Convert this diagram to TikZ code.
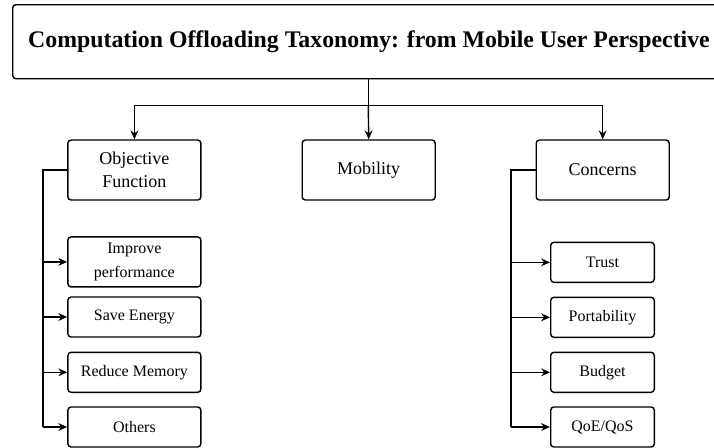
\documentclass[tikz,border=0pt]{standalone}
\usepackage{fontspec}
\setmainfont{Liberation Serif}
\usetikzlibrary{arrows.meta}
\begin{document}
\begin{tikzpicture}[x=0.5pt,y=-0.5pt,
  box/.style={draw, rounded corners=1.6pt, line width=0.7pt, align=center, inner sep=0pt},
  midbox/.style={box, minimum width=66.5pt, minimum height=30pt, font=\fontsize{9}{11.5}\selectfont},
  leafL/.style={box, minimum width=66.5pt, minimum height=20pt, font=\fontsize{8}{12}\selectfont},
  leafR/.style={box, minimum width=51.8pt, minimum height=20pt, font=\fontsize{8}{12}\selectfont},
  conn/.style={line width=0.7pt},
  arr/.style={conn, -{Stealth[length=4.4pt,width=3.9pt,inset=1.4pt]}},
  trunk/.style={line width=1pt}]
\useasboundingbox (0,0) rectangle (714,447);
\node[box, minimum width=356.3pt, minimum height=37pt, font=\fontsize{11.9}{14}\selectfont\bfseries] (title) at (369,41.7) {Computation Offloading Taxonomy: from Mobile User Perspective};
\node[midbox] (obj) at (134.4,170) {Objective\\Function};
\node[midbox] (mob) at (368.7,170) {Mobility};
\node[midbox] (con) at (602.7,170) {Concerns};
\node[leafL, minimum height=25pt] (imp) at (134.4,261.9) {Improve\\performance};
\node[leafL] (save) at (134.4,317) {Save Energy};
\node[leafL] (red) at (134.4,372.3) {Reduce Memory};
\node[leafL] (oth) at (134.4,427) {Others};
\node[leafR] (tru) at (602.5,262.3) {Trust};
\node[leafR] (por) at (602.5,317.3) {Portability};
\node[leafR] (bud) at (602.5,372.3) {Budget};
\node[leafR] (qoe) at (602.5,427) {QoE/QoS};
% top connectors
\coordinate (hub) at (368.3,105.5);
\draw[conn] (title.south -| hub) -- (hub);
\draw[conn] (obj.north |- hub) -- (con.north |- hub);
\draw[arr] (hub) -- (mob.north);
\draw[arr] (obj.north |- hub) -- (obj.north);
\draw[arr] (con.north |- hub) -- (con.north);
% left trunk
\coordinate (lt) at (42.7,170);
\draw[trunk] (obj.west) -- (lt) -- (lt |- oth.west);
\foreach \n in {imp,save,red,oth} \draw[arr] (lt |- \n.west) -- (\n.west);
% right trunk
\coordinate (rt) at (510.7,170);
\draw[trunk] (con.west) -- (rt) -- (rt |- qoe.west);
\foreach \n in {tru,por,bud,qoe} \draw[arr] (rt |- \n.west) -- (\n.west);
\end{tikzpicture}
\end{document}
